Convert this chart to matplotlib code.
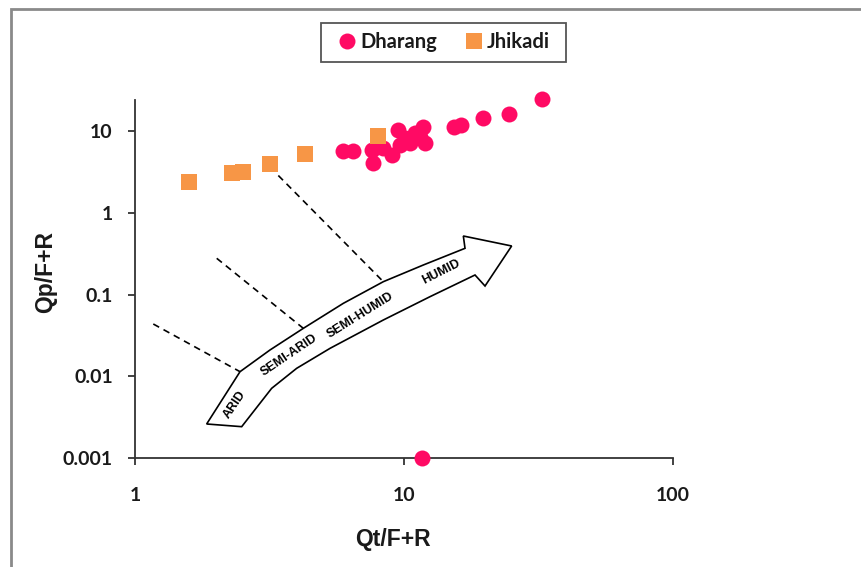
import numpy as np
import matplotlib
matplotlib.use("Agg")
import matplotlib.pyplot as plt
from matplotlib.patches import Polygon, Rectangle
from matplotlib.lines import Line2D

# Provenance ratios (log-log discrimination diagram)
dharang_qt = [5.95, 6.45, 7.69, 7.59, 8.38, 9.0, 9.52, 9.67, 10.5, 11.0, 11.8,
              12.0, 11.5, 10.1, 15.3, 16.3, 19.7, 24.6, 32.7, 11.7]
dharang_qp = [5.74, 5.74, 4.03, 5.86, 6.14, 5.08, 10.3, 6.75, 7.08, 9.37, 11.3,
              7.08, 8.51, 8.2, 11.35, 11.7, 14.4, 16.0, 24.4, 0.001]

jhikadi_qt = [1.59, 2.30, 2.51, 3.18, 4.29, 7.99]
jhikadi_qp = [2.40, 3.04, 3.13, 3.98, 5.16, 8.69]

x_ticks = [1, 10, 100]
x_tick_labels = ["1", "10", "100"]
y_ticks = [0.001, 0.01, 0.1, 1, 10]
y_tick_labels = ["0.001", "0.01", "0.1", "1", "10"]

climate_zones = ["ARID", "SEMI-ARID", "SEMI-HUMID", "HUMID"]

PINK = "#FF0A64"
ORANGE = "#F79646"
AXIS = "#333333"
TEXT = "#1a1a1a"

W, H = 862, 567
fig = plt.figure(figsize=(W / 100, H / 100), dpi=100)
ax = fig.add_axes([0.15661, 0.19224, 0.62413, 0.63139])

# outer chart frame (top and left edges visible)
fig.patches.append(Rectangle((11 / W, -0.1), 1.2, 1 - 9 / H + 0.1,
                             transform=fig.transFigure, fill=False,
                             edgecolor="#8a8a8a", linewidth=2.0, zorder=0))

ax.set_xscale("log")
ax.set_yscale("log")
ax.set_xlim(1, 100)
ax.set_ylim(0.001, 10 ** (1 + 31 / 81.75))

ax.plot(dharang_qt, dharang_qp, linestyle="none", marker="o", markersize=11.5,
        color=PINK, markeredgewidth=0, clip_on=False, zorder=4, label="Dharang")
ax.plot(jhikadi_qt, jhikadi_qp, linestyle="none", marker="s", markersize=11,
        color=ORANGE, markeredgewidth=0, clip_on=False, zorder=5, label="Jhikadi")

for side in ("top", "right"):
    ax.spines[side].set_visible(False)
for side in ("left", "bottom"):
    ax.spines[side].set_color(AXIS)
    ax.spines[side].set_linewidth(1.3)

ax.set_xticks(x_ticks)
ax.set_xticklabels(x_tick_labels)
ax.set_yticks(y_ticks)
ax.set_yticklabels(y_tick_labels)
ax.minorticks_off()
ax.tick_params(axis="both", direction="out", length=5, width=1.3, color=AXIS,
               labelsize=14, labelcolor=TEXT)
ax.tick_params(axis="y", pad=11)
ax.tick_params(axis="x", pad=16)
for lab in ax.get_xticklabels() + ax.get_yticklabels():
    lab.set_fontfamily("Lato")
    lab.set_fontweight("bold")

ax.set_xlabel("Qt/F+R", fontsize=16.5, fontfamily="Liberation Sans",
              fontweight="bold", color=TEXT)
ax.set_ylabel("Qp/F+R", fontsize=16.5, fontfamily="Liberation Sans",
              fontweight="bold", color=TEXT)
ax.xaxis.set_label_coords(0.4796, -0.195)
ax.yaxis.set_label_coords(-0.145, 0.52)

# curved climate arrow (axes-fraction outline)
arrow_outline = [
    (0.1952, 0.2411), (0.2509, 0.3017), (0.3129, 0.3622), (0.3872, 0.4320),
    (0.4616, 0.4925), (0.5359, 0.5391), (0.6134, 0.5857), (0.6103, 0.6201),
    (0.7001, 0.5922), (0.6506, 0.4804), (0.6320, 0.5112), (0.5483, 0.4506),
    (0.4616, 0.3855), (0.3625, 0.3063), (0.3005, 0.2505), (0.2540, 0.1946),
    (0.1983, 0.0875), (0.1332, 0.0950),
]
ax.add_patch(Polygon(arrow_outline, closed=True, transform=ax.transAxes,
                     facecolor="white", edgecolor="black", linewidth=1.2,
                     joinstyle="miter", zorder=3))

# dashed zone boundaries
boundaries = [
    ((0.0340, 0.3743), (0.1952, 0.2411)),
    ((0.1519, 0.5578), (0.3129, 0.3622)),
    ((0.2664, 0.7891), (0.4616, 0.4925)),
]
for (x0, y0), (x1, y1) in boundaries:
    ax.add_line(Line2D([x0, x1], [y0, y1], transform=ax.transAxes,
                       color="black", linewidth=1.2, linestyle=(0, (4, 3)),
                       zorder=2))

zone_label_pos = [(0.1859, 0.1480, 56), (0.2862, 0.2858, 34),
                  (0.4182, 0.3994, 32), (0.5682, 0.5187, 27)]
for name, (fx, fy, rot) in zip(climate_zones, zone_label_pos):
    ax.text(fx, fy, name, transform=ax.transAxes, rotation=rot,
            rotation_mode="anchor", ha="center", va="center", fontsize=9,
            fontfamily="Liberation Sans", fontweight="bold", color="black",
            zorder=6)

# legend entries without a frame, boxed by a fixed rectangle at the top
leg = fig.legend(loc="center", bbox_to_anchor=(443.5 / W, 1 - 42.2 / H),
                 ncol=2, frameon=False,
                 prop={"family": "Lato", "weight": "bold", "size": 14.5},
                 handletextpad=0.15, columnspacing=1.3, handlelength=1.0,
                 borderpad=0, borderaxespad=0)
for t in leg.get_texts():
    t.set_color(TEXT)
fig.patches.append(Rectangle((321 / W, 1 - 61.7 / H), 245 / W, 39 / H,
                             transform=fig.transFigure, fill=False,
                             edgecolor="#555555", linewidth=1.3, zorder=1))

fig.savefig("out.png", dpi=100)
